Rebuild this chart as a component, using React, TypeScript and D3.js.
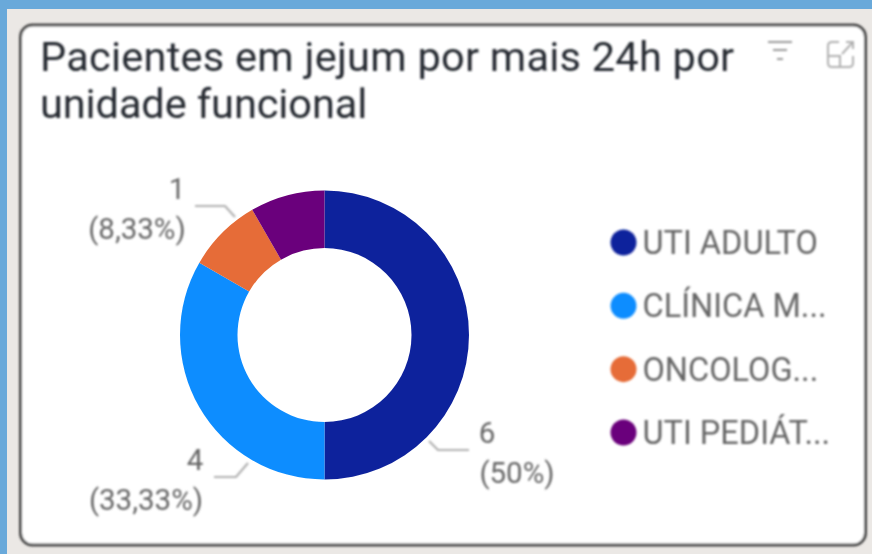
import React from "react"
import * as d3 from "d3"

const categories = ["UTI ADULTO", "CLÍNICA M...", "ONCOLOG...", "UTI PEDIÁT..."]
const values = [6, 4, 1, 1]
const colors = ["#0f229c", "#118dff", "#e66c37", "#6b007b"]
const titleLines = ["Pacientes em jejum por mais 24h por", "unidade funcional"]

const width = 872
const height = 554
const cx = 324.5
const cy = 335
const outerR = 144.5
const innerR = 87
const font = "Roboto, sans-serif"

export default function App() {
    const pie = d3.pie<number>().sort(null).value((d) => d)
    const arc = d3.arc<d3.PieArcDatum<number>>().innerRadius(innerR).outerRadius(outerR)
    const arcs = pie(values)

    // legend rows
    const legendY = d3.scalePoint<string>().domain(categories).range([242.5, 432.5])

    return (
        <svg width={width} height={height} style={{ position: "absolute", left: 0, top: 0 }}>
            <defs>
                <filter id="soft" x="-5%" y="-5%" width="110%" height="110%">
                    <feGaussianBlur stdDeviation="0.9" />
                </filter>
                <filter id="edge" x="-5%" y="-5%" width="110%" height="110%">
                    <feGaussianBlur stdDeviation="0.5" />
                </filter>
            </defs>
            <rect width={width} height={height} fill="#69a9da" />
            <rect x={7} y={9} width={865} height={545} fill="#ebe8e5" />
            <rect x={20.5} y={25} width={845} height={520} rx={12} fill="#fff" stroke="#4a4a4a" strokeWidth={3} filter="url(#soft)" />

            <g filter="url(#soft)">
                {titleLines.map((t, i) => (
                    <text key={t} x={40} y={71 + i * 47} fontFamily={font} fontSize={41.5} letterSpacing={i === 0 ? 0.25 : -0.1} fill="#252a30">{t}</text>
                ))}

                {/* filter icon */}
                <g stroke="#9a9a9a" strokeWidth={1.8} fill="none">
                    <path d="M768 42H792M773 50H787M777 59H783" />
                </g>
                {/* expand icon */}
                <g stroke="#b0b0b0" strokeWidth={2} fill="none">
                    <path d="M839 42H832Q828 42 828 46V63Q828 67 832 67H849Q853 67 853 63V56" />
                    <path d="M828 56H840V67M842 54L852 43M846 42H853V49" />
                </g>
            </g>

            <g transform={`translate(${cx},${cy})`} filter="url(#edge)">
                {arcs.map((a, i) => (
                    <path key={categories[i]} d={arc(a) ?? ""} fill={colors[i]} />
                ))}
            </g>

            <g filter="url(#soft)">
                {/* leader lines */}
                <g stroke="#b0b0b0" strokeWidth={2.2} fill="none">
                    <path d="M429 441L438 450H469" />
                    <path d="M214 477H236L248 463" />
                    <path d="M195 206H225L235 217" />
                </g>
                <g fontFamily={font} fontSize={29.5} fill="#666">
                    <text x={487} y={443} textAnchor="middle">6</text>
                    <text x={517} y={483} textAnchor="middle">(50%)</text>
                    <text x={195} y={470} textAnchor="middle">4</text>
                    <text x={146} y={510} textAnchor="middle">(33,33%)</text>
                    <text x={177} y={199} textAnchor="middle">1</text>
                    <text x={137} y={239} textAnchor="middle">(8,33%)</text>
                </g>
                {categories.map((c, i) => (
                    <g key={c}>
                        <circle cx={623.5} cy={legendY(c) ?? 0} r={13} fill={colors[i]} />
                        <text x={642.5} y={(legendY(c) ?? 0) + 11.5} fontFamily={font} fontSize={32.5} fill="#666">{c}</text>
                    </g>
                ))}
            </g>
        </svg>
    )
}
